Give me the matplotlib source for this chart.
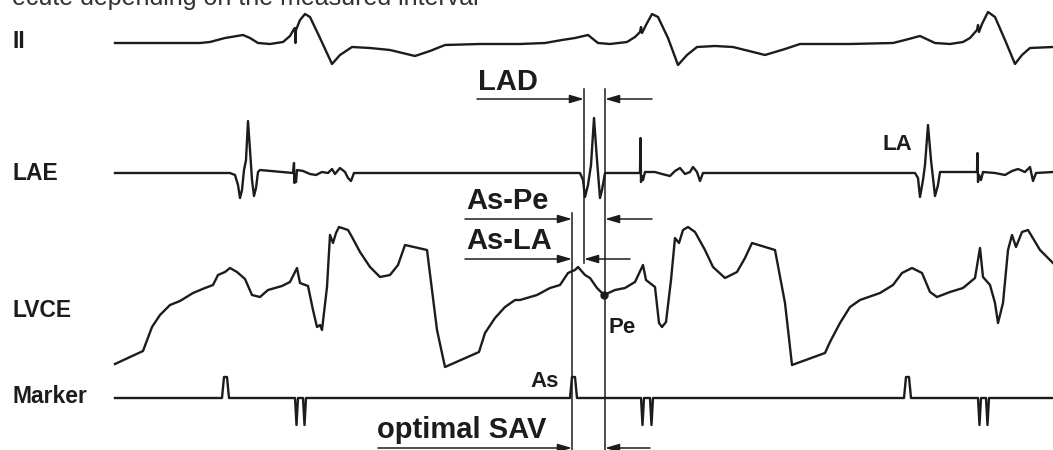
import matplotlib
matplotlib.use("Agg")
import matplotlib.pyplot as plt

plt.rcParams['font.family'] = ['Liberation Sans', 'DejaVu Sans']

# ---- trace data (time axis in screen-pixel units, amplitude in screen-pixel units) ----
ii_x = [115, 150, 200, 210, 225, 243, 250, 258, 270, 283, 290, 294, 295, 295.5, 296, 300, 305, 310, 320, 332,
        340, 352, 370, 390, 415, 430, 445, 480, 520, 545, 562, 575, 588, 598, 610, 627, 635, 640, 641, 642, 646,
        652, 658, 668, 678, 687, 697, 715, 733, 765, 785, 800, 850, 893, 905, 920, 935, 950, 963, 970, 977, 978,
        979, 982, 988, 995, 1005, 1015, 1022, 1030, 1053]
ii_y = [43, 43, 43, 42, 38, 35, 38, 43, 44, 42, 36, 29, 28, 43, 30, 20, 14, 17, 38, 64,
        55, 47, 48, 50, 56, 51, 45, 44, 44, 43, 40, 38, 35, 43, 44, 42, 37, 32, 27, 33, 25,
        14, 17, 38, 65, 55, 47, 46, 47, 55, 49, 44, 44, 43, 40, 36, 43, 44, 42, 38, 30, 25,
        32, 24, 12, 17, 40, 64, 55, 48, 47]

lae_x = [115, 230, 235, 238, 240, 242, 244, 246, 248, 250, 252, 254, 256, 258, 260, 293, 294, 294.5, 295, 296,
         297, 303, 310, 316, 322, 328, 332, 335, 340, 345, 348, 351, 354, 360, 580, 583, 585, 588, 591, 594,
         597, 600, 602, 605, 640, 640.5, 641, 642, 643, 645, 655, 662, 670, 675, 680, 685, 690, 693, 697, 700,
         703, 915, 918, 920, 923, 925, 928, 931, 935, 938, 940, 977, 977.5, 978, 979, 981, 983, 995, 1005,
         1012, 1018, 1025, 1030, 1033, 1036, 1053]
lae_y = [173, 173, 175, 185, 198, 190, 170, 160, 121, 150, 180, 196, 188, 172, 170, 173, 163, 183, 175, 182,
         170, 171, 174, 175, 172, 173, 169, 174, 168, 172, 178, 181, 173, 173, 173, 180, 197, 185, 165, 118,
         160, 198, 190, 173, 173, 138, 182, 176, 180, 172, 172, 174, 176, 171, 168, 174, 172, 167, 172, 181,
         173, 173, 178, 197, 180, 165, 125, 160, 196, 185, 172, 172, 153, 182, 175, 180, 172, 173, 175,
         171, 169, 172, 167, 181, 173, 172]

lvce_x = [115, 143, 152, 160, 170, 180, 193, 205, 213, 218, 225, 230, 237, 245, 252, 260, 268, 282, 290, 297,
          300, 308, 313, 317, 320, 322, 327, 330, 333, 336, 339, 348, 352, 360, 370, 380, 390, 398, 405, 427,
          437, 445, 479, 485, 495, 505, 515, 520, 537, 550, 560, 568, 575, 578, 585, 590, 597, 604, 615, 625,
          635, 643, 646, 655, 659, 662, 666, 671, 675, 679, 683, 688, 695, 705, 713, 725, 737, 745, 752, 775,
          785, 792, 825, 830, 840, 850, 860, 880, 893, 902, 912, 922, 930, 937, 950, 963, 975, 980, 983, 990,
          995, 998, 1003, 1008, 1012, 1016, 1022, 1028, 1040, 1053]
lvce_y = [364, 351, 327, 315, 305, 301, 293, 288, 285, 275, 272, 268, 272, 279, 295, 297, 290, 286, 282, 268,
          283, 286, 310, 327, 325, 330, 287, 235, 243, 233, 227, 230, 237, 252, 267, 277, 275, 265, 245, 250,
          330, 367, 352, 333, 318, 307, 300, 300, 295, 288, 285, 273, 270, 267, 275, 278, 288, 295, 290, 288,
          282, 265, 280, 287, 323, 327, 322, 280, 238, 243, 230, 227, 232, 250, 267, 278, 272, 258, 243, 250,
          303, 365, 353, 342, 323, 307, 300, 293, 285, 273, 268, 273, 292, 297, 292, 288, 278, 248, 277, 285,
          303, 323, 303, 250, 235, 247, 232, 230, 250, 263]

marker_x = [115, 222, 224, 227, 229, 295, 296.5, 298, 303, 304.5, 306, 570, 572, 575, 577, 641, 642.5, 644,
            650, 651.5, 653, 904, 906, 909, 911, 978, 979.5, 981, 986, 987.5, 989, 1053]
marker_y = [398, 398, 377, 377, 398, 398, 425, 398, 398, 425, 398, 398, 377, 377, 398, 398, 425, 398,
            398, 425, 398, 398, 377, 377, 398, 398, 425, 398, 398, 425, 398, 398]

# ---- labels ----
trace_labels = ["II", "LAE", "LVCE", "Marker"]
trace_label_y = [48, 180, 317, 403]

# ---- annotation markers ----
as_time, la_time, pe_time = 572, 584, 605
pe_value = 295
interval_labels = ["LAD", "As-Pe", "As-LA", "optimal SAV"]

INK = '#1c1c1c'

fig = plt.figure(figsize=(10.53, 4.5), dpi=100)
ax = fig.add_axes([0, 0, 1, 1])
ax.set_xlim(0, 1053)
ax.set_ylim(450, 0)
ax.axis('off')

for xs, ys in [(ii_x, ii_y), (lae_x, lae_y), (lvce_x, lvce_y), (marker_x, marker_y)]:
    ax.plot(xs, ys, color=INK, lw=1.7, solid_joinstyle='round')

for lab, y in zip(trace_labels, trace_label_y):
    ax.text(13, y, lab, fontsize=16.5, fontweight='bold', color=INK, ha='left', va='baseline')

# caption cut off by the top edge, as in the reference
ax.text(12, 5, "ecute depending on the measured interval", fontsize=18, color='#333333',
        ha='left', va='baseline')

# vertical time markers
ax.plot([as_time, as_time], [213, 452], color=INK, lw=1.1)
ax.plot([la_time, la_time], [89, 263], color=INK, lw=1.1)
ax.plot([pe_time, pe_time], [89, 452], color=INK, lw=1.1)

# Pe point
ax.plot([pe_time - 1], [pe_value], 'o', color=INK, ms=5)

arrow = dict(arrowstyle='-|>,head_length=0.85,head_width=0.25', lw=1.1, color=INK,
             shrinkA=0, shrinkB=0)

def bracket(y, x_left_start, x_left_end, x_right_start, x_right_end):
    ax.annotate('', xy=(x_left_end, y), xytext=(x_left_start, y), arrowprops=arrow)
    ax.annotate('', xy=(x_right_end, y), xytext=(x_right_start, y), arrowprops=arrow)

bracket(99, 477, la_time, 652, pe_time)
bracket(219, 465, as_time, 652, pe_time)
bracket(259, 465, as_time, 630, la_time)
bracket(448, 378, as_time, 650, pe_time)

ax.text(478, 90, interval_labels[0], fontsize=21, fontweight='bold', color=INK, ha='left', va='baseline')
ax.text(466, 209, interval_labels[1], fontsize=21, fontweight='bold', color=INK, ha='left', va='baseline')
ax.text(466, 249, interval_labels[2], fontsize=21, fontweight='bold', color=INK, ha='left', va='baseline')
ax.text(377, 438, interval_labels[3], fontsize=21, fontweight='bold', color=INK, ha='left', va='baseline')

ax.text(883, 150, "LA", fontsize=16, fontweight='bold', color=INK, ha='left', va='baseline')
ax.text(609, 333, "Pe", fontsize=16, fontweight='bold', color=INK, ha='left', va='baseline')
ax.text(530, 387, "As", fontsize=16, fontweight='bold', color=INK, ha='left', va='baseline')

fig.savefig("out.png", dpi=100)
